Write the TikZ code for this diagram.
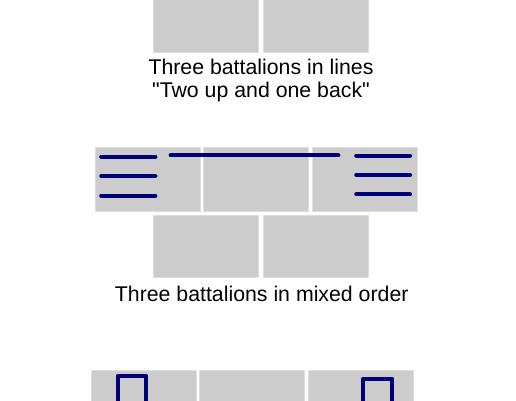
\documentclass[tikz,border=0pt]{standalone}
\usepackage{fontspec}
\setmainfont{Liberation Sans}[Ligatures=TeXOff]
\definecolor{boxgray}{RGB}{204,204,204}
\definecolor{boxedge}{RGB}{222,222,222}
\definecolor{navyline}{RGB}{0,0,120}
\begin{document}
\begin{tikzpicture}[x=1pt,y=-1pt,
  bat/.style={fill=boxgray,draw=boxedge,line width=0.8pt,inner sep=0pt,minimum width=105pt,anchor=north west},
  troop/.style={draw=navyline,line width=4.2pt,line cap=round,line join=round},
  lbl/.style={anchor=base,inner sep=0pt,font=\fontsize{21.3}{24}\selectfont}]
\useasboundingbox (0,0) rectangle (516,400);
% top group
\node[bat,minimum height=62pt] (t1) at (153.2,-10) {};
\node[bat,minimum height=62pt] (t2) at (263.2,-10) {};
\node[lbl] (l1) at (261,74.3) {Three battalions in lines};
\node[lbl] (l2) at (261,97.9) {"Two up and one back"};
% middle group
\node[bat,minimum height=63.5pt] (m1) at (94.8,147.2) {};
\node[bat,minimum height=63.5pt] (m2) at (203.2,147.2) {};
\node[bat,minimum height=63.5pt] (m3) at (312.2,147.2) {};
\node[bat,minimum height=62.5pt] (b1) at (153.2,214.5) {};
\node[bat,minimum height=62.5pt] (b2) at (263.2,214.5) {};
\draw[troop] (101.3,156.7) -- (155.3,156.7);
\draw[troop] (101.3,176) -- (155.3,176);
\draw[troop] (101.3,195.7) -- (155.3,195.7);
\draw[troop] (170.7,155.3) -- (338.3,155.3);
\draw[troop] (356.3,155.7) -- (410,155.7);
\draw[troop] (356.3,175) -- (410,175);
\draw[troop] (356.3,194.3) -- (410,194.3);
\node[lbl] (l3) at (261.7,301.7) {Three battalions in mixed order};
% bottom group
\node[bat,minimum height=45pt] (c1) at (90.5,369.5) {};
\node[bat,minimum height=45pt] (c2) at (199.3,369.5) {};
\node[bat,minimum height=45pt] (c3) at (308.2,369.5) {};
\draw[troop] (117.7,410) -- (117.7,376) -- (146.3,376) -- (146.3,410);
\draw[troop] (363,410) -- (363,378.7) -- (392.3,378.7) -- (392.3,410);
\end{tikzpicture}
\end{document}
